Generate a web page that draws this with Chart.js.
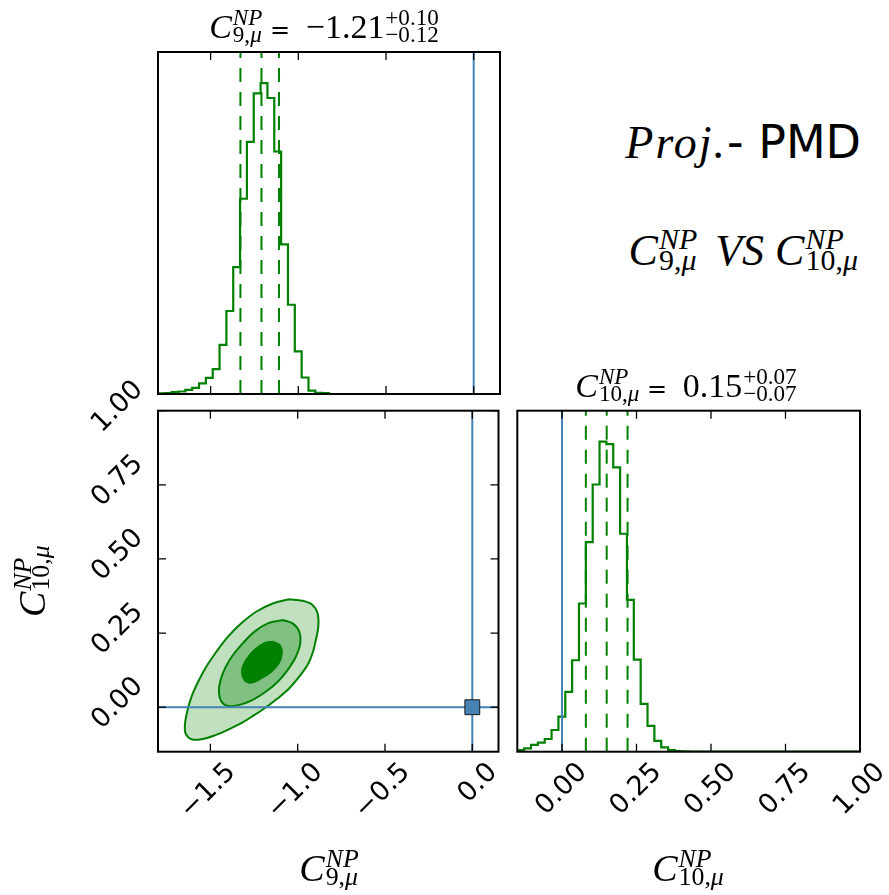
<!DOCTYPE html>
<html><head><meta charset="utf-8">
<script src="https://cdn.jsdelivr.net/npm/chart.js@4.4.1/dist/chart.umd.min.js"></script>
<style>
html,body{margin:0;padding:0;background:#fff}
body{position:relative;width:889px;height:895px;overflow:hidden}
canvas{position:absolute}
.t{position:absolute;white-space:nowrap;font-family:"Liberation Serif",serif;color:#000;line-height:1.2}
.t i{font-style:italic}
.ss{display:inline-flex;flex-direction:column;align-items:flex-start;font-size:0.68em;line-height:0.72;vertical-align:0.55em;margin-left:0.04em}
.sans{font-family:"DejaVu Sans",sans-serif}
</style></head><body>
<canvas id="cA" width="362" height="360" style="left:148px;top:42px"></canvas>
<canvas id="cB" width="510" height="525" style="left:0px;top:370px"></canvas>
<canvas id="cC" width="382" height="495" style="left:507px;top:400px"></canvas>
<script>
// ---------------- data ----------------
const c9Range = [-1.8, 0.15];
const c10Range = [-0.15, 1.0];
const c9Counts = [0.2,0.3,0.6,0.8,1.3,2.0,3.4,5.2,8.0,15.8,26.7,40.8,62.8,81.1,96.7,100,95.2,78.0,48.1,28.7,13.7,5.3,1.1,0.4,0.3,
                  0,0,0,0,0,0,0,0,0,0,0,0,0,0,0,0,0,0,0,0,0,0,0,0,0];
const c10Counts = [0.5,1.1,2.2,2.9,4.1,7.0,11.3,19.3,29.5,47.8,67.6,86.2,100,99.2,91.7,70.3,49.0,29.7,15.4,8.3,3.5,1.4,0.5,0.2,0.1,
                   0,0,0,0,0,0,0,0,0,0,0,0,0,0,0,0,0,0,0,0,0,0,0,0,0];
const c9Quantiles = [-1.33, -1.21, -1.11];
const c10Quantiles = [0.08, 0.15, 0.22];
const truthC9 = 0.0;
const truthC10 = 0.0;
const c9Ticks = [-1.5, -1.0, -0.5, 0.0];
const c9TickLabels = ['\u22121.5', '\u22121.0', '\u22120.5', '0.0'];
const c10Ticks = [0.0, 0.25, 0.5, 0.75, 1.0];
const c10TickLabels = ['0.00', '0.25', '0.50', '0.75', '1.00'];
const contourOuter = [[-1.048,0.364],[-0.972,0.359],[-0.915,0.345],[-0.886,0.317],[-0.882,0.272],[-0.896,0.227],[-0.915,0.182],[-0.943,0.143],[-0.991,0.103],[-1.048,0.064],[-1.114,0.030],[-1.181,0.000],[-1.247,-0.026],[-1.323,-0.054],[-1.399,-0.076],[-1.475,-0.095],[-1.551,-0.108],[-1.608,-0.108],[-1.641,-0.090],[-1.646,-0.060],[-1.633,-0.015],[-1.608,0.036],[-1.570,0.086],[-1.523,0.137],[-1.466,0.187],[-1.399,0.238],[-1.323,0.283],[-1.238,0.322],[-1.143,0.350],[-1.048,0.364]];
const contourMiddle = [[-1.086,0.294],[-1.029,0.283],[-0.991,0.255],[-0.985,0.216],[-1.010,0.171],[-1.057,0.126],[-1.114,0.086],[-1.181,0.053],[-1.257,0.025],[-1.333,0.008],[-1.399,0.004],[-1.437,0.019],[-1.451,0.058],[-1.432,0.109],[-1.390,0.159],[-1.323,0.210],[-1.247,0.255],[-1.171,0.283],[-1.086,0.294]];
const contourInner = [[-1.143,0.221],[-1.105,0.210],[-1.091,0.182],[-1.109,0.148],[-1.152,0.120],[-1.209,0.098],[-1.266,0.083],[-1.304,0.092],[-1.318,0.126],[-1.295,0.159],[-1.247,0.193],[-1.190,0.216],[-1.143,0.221]];
const c9Title = {median: '\u22121.21', plus: '+0.10', minus: '\u22120.12'};
const c10Title = {median: '0.15', plus: '+0.07', minus: '\u22120.07'};

// ---------------- helpers ----------------
const GREEN = '#008000', BLUE = '#4682b4';
function stepPoints(range, counts) {
  const n = counts.length, w = (range[1] - range[0]) / n;
  const pts = [{x: range[0], y: 0}];
  counts.forEach((c, i) => pts.push({x: range[0] + i * w, y: c}));
  pts.push({x: range[1], y: 0});
  return pts;
}
const toXY = arr => arr.map(p => ({x: p[0], y: p[1]}));
function vline(x, y0, y1, color, dash, order) {
  return {data: [{x: x, y: y0}, {x: x, y: y1}], showLine: true, borderColor: color, borderWidth: 2,
          borderDash: dash || [], pointRadius: 0, order: order};
}
const framePlugin = {
  id: 'frame',
  afterDatasetsDraw(chart, args, opts) {
    const ctx = chart.ctx, a = chart.chartArea, tl = 8;
    ctx.save();
    ctx.strokeStyle = '#000';
    ctx.lineWidth = 1.3;
    if (opts.xTicks) {
      const s = chart.scales.x;
      s.ticks.forEach(t => {
        const p = s.getPixelForValue(t.value);
        ctx.beginPath();
        ctx.moveTo(p, a.bottom); ctx.lineTo(p, a.bottom - tl);
        ctx.moveTo(p, a.top); ctx.lineTo(p, a.top + tl);
        ctx.stroke();
      });
    }
    if (opts.yTicks) {
      const s = chart.scales.y;
      s.ticks.forEach(t => {
        const p = s.getPixelForValue(t.value);
        ctx.beginPath();
        ctx.moveTo(a.left, p); ctx.lineTo(a.left + tl, p);
        ctx.moveTo(a.right, p); ctx.lineTo(a.right - tl, p);
        ctx.stroke();
      });
    }
    ctx.lineWidth = 2;
    ctx.strokeRect(a.left, a.top, a.right - a.left, a.bottom - a.top);
    ctx.restore();
  }
};
const tickFont = {family: 'DejaVu Sans', size: 27};
const baseOpts = {animation: false, responsive: false, events: []};

// ---------------- chart A : C9 histogram ----------------
const ymax9 = 1.1 * Math.max(...c9Counts);
new Chart(document.getElementById('cA'), {
  type: 'scatter',
  data: {datasets: [
    vline(truthC9, 0, ymax9, BLUE, null, 0),
    ...c9Quantiles.map(q => vline(q, 0, ymax9, GREEN, [14, 10], 1)),
    {data: stepPoints(c9Range, c9Counts), showLine: true, stepped: 'before', borderColor: GREEN,
     borderWidth: 2.2, pointRadius: 0, order: 2}
  ]},
  options: Object.assign({}, baseOpts, {
    layout: {padding: {left: 10, top: 10, right: 10, bottom: 8}},
    plugins: {legend: {display: false}, tooltip: {enabled: false}, frame: {xTicks: true, yTicks: false}},
    scales: {
      x: {type: 'linear', min: c9Range[0], max: c9Range[1], display: false,
          afterBuildTicks: s => { s.ticks = c9Ticks.map(v => ({value: v})); }},
      y: {type: 'linear', min: 0, max: ymax9, display: false}
    }
  }),
  plugins: [framePlugin]
});

// ---------------- chart B : 2D contours ----------------
new Chart(document.getElementById('cB'), {
  type: 'scatter',
  data: {datasets: [
    {data: [{x: truthC9, y: truthC10}], pointStyle: 'rect', pointRadius: 10.5, backgroundColor: BLUE,
     borderColor: '#1a1a1a', borderWidth: 1, order: 0},
    {data: [{x: c9Range[0], y: truthC10}, {x: c9Range[1], y: truthC10}], showLine: true, borderColor: BLUE,
     borderWidth: 2, pointRadius: 0, order: 1},
    vline(truthC9, c10Range[0], c10Range[1], BLUE, null, 2),
    {data: toXY(contourInner), showLine: true, fill: 'shape', tension: 0.35, backgroundColor: '#008000',
     borderColor: GREEN, borderWidth: 2, pointRadius: 0, order: 3},
    {data: toXY(contourMiddle), showLine: true, fill: 'shape', tension: 0.35, backgroundColor: '#80c080',
     borderColor: GREEN, borderWidth: 2, pointRadius: 0, order: 4},
    {data: toXY(contourOuter), showLine: true, fill: 'shape', tension: 0.35, backgroundColor: '#c0e0c0',
     borderColor: GREEN, borderWidth: 2, pointRadius: 0, order: 5}
  ]},
  options: Object.assign({}, baseOpts, {
    layout: {padding: {left: 0, top: 40.7, right: 10, bottom: 0}},
    plugins: {legend: {display: false}, tooltip: {enabled: false}, frame: {xTicks: true, yTicks: true}},
    scales: {
      x: {type: 'linear', min: c9Range[0], max: c9Range[1],
          afterBuildTicks: s => { s.ticks = c9Ticks.map(v => ({value: v})); },
          grid: {display: false, drawTicks: false}, border: {display: false},
          ticks: {autoSkip: false, minRotation: 45, maxRotation: 45, padding: 5, labelOffset: 21,
                  font: tickFont, color: '#000', callback: (v, i) => c9TickLabels[i]},
          afterFit: s => { s.height = 143.3; s.paddingLeft = 0; s.paddingRight = 0; }},
      y: {type: 'linear', min: c10Range[0], max: c10Range[1],
          afterBuildTicks: s => { s.ticks = c10Ticks.map(v => ({value: v})); },
          grid: {display: false, drawTicks: false}, border: {display: false},
          ticks: {autoSkip: false, minRotation: 45, maxRotation: 45, padding: 19, labelOffset: -25,
                  font: tickFont, color: '#000', callback: (v, i) => c10TickLabels[i]},
          afterFit: s => { s.width = 158; s.paddingTop = 0; s.paddingBottom = 0; }}
    }
  }),
  plugins: [framePlugin]
});

// ---------------- chart C : C10 histogram ----------------
const ymax10 = 1.1 * Math.max(...c10Counts);
new Chart(document.getElementById('cC'), {
  type: 'scatter',
  data: {datasets: [
    vline(truthC10, 0, ymax10, BLUE, null, 0),
    ...c10Quantiles.map(q => vline(q, 0, ymax10, GREEN, [14, 10], 1)),
    {data: stepPoints(c10Range, c10Counts), showLine: true, stepped: 'before', borderColor: GREEN,
     borderWidth: 2.2, pointRadius: 0, order: 2}
  ]},
  options: Object.assign({}, baseOpts, {
    layout: {padding: {left: 10.3, top: 10.7, right: 29, bottom: 0}},
    plugins: {legend: {display: false}, tooltip: {enabled: false}, frame: {xTicks: true, yTicks: false}},
    scales: {
      x: {type: 'linear', min: c10Range[0], max: c10Range[1],
          afterBuildTicks: s => { s.ticks = c10Ticks.map(v => ({value: v})); },
          grid: {display: false, drawTicks: false}, border: {display: false},
          ticks: {autoSkip: false, minRotation: 45, maxRotation: 45, padding: 5, labelOffset: 21,
                  font: tickFont, color: '#000', callback: (v, i) => c10TickLabels[i]},
          afterFit: s => { s.height = 143.3; s.paddingLeft = 0; s.paddingRight = 0; }},
      y: {type: 'linear', min: 0, max: ymax10, display: false}
    }
  }),
  plugins: [framePlugin]
});

// ---------------- text (math-like labels) ----------------
function ss(sup, sub) { return '<span class="ss"><span>' + sup + '</span><span>' + sub + '</span></span>'; }
const C9 = '<i>C</i>' + ss('<i>NP</i>', '9,<i>\u03bc</i>');
const C10 = '<i>C</i>' + ss('<i>NP</i>', '10,<i>\u03bc</i>');
function placeText(html, x, baseline, align, fontSize, rotate) {
  const el = document.createElement('div');
  el.className = 't';
  el.style.fontSize = fontSize + 'px';
  el.innerHTML = html + '<span style="display:inline-block;width:0;height:0;vertical-align:baseline"></span>';
  el.style.left = '0px'; el.style.top = '0px';
  document.body.appendChild(el);
  const r = el.getBoundingClientRect();
  const m = el.lastChild.getBoundingClientRect();
  const b = m.bottom - r.top, w = r.width;
  if (rotate) {
    el.style.transformOrigin = '0 0';
    el.style.transform = 'rotate(-90deg)';
    el.style.left = (x - b) + 'px';
    el.style.top = (baseline + w / 2) + 'px';
  } else {
    const left = align === 'center' ? x - w / 2 : (align === 'right' ? x - w : x);
    el.style.left = left + 'px';
    el.style.top = (baseline - b) + 'px';
  }
  return el;
}
const eq = '<span class="sans" style="font-size:24px"> = </span><span style="margin-left:8px"></span>';
placeText(C9 + eq + c9Title.median + ss(c9Title.plus, c9Title.minus), 324, 38, 'center', 34);
placeText(C10 + eq + c10Title.median + ss(c10Title.plus, c10Title.minus), 686, 397, 'center', 34);
placeText('<i style="letter-spacing:2px">Proj.</i><span class="sans">- PMD</span>', 861, 158, 'right', 46);
placeText(C9 + '<span style="margin-left:18px"></span><i>VS</i> ' + C10, 858, 265, 'right', 44);
placeText(C9, 329, 881, 'center', 38);
placeText(C10, 688, 881, 'center', 38);
placeText(C10, 45, 581, 'center', 38, true);
</script></body></html>
